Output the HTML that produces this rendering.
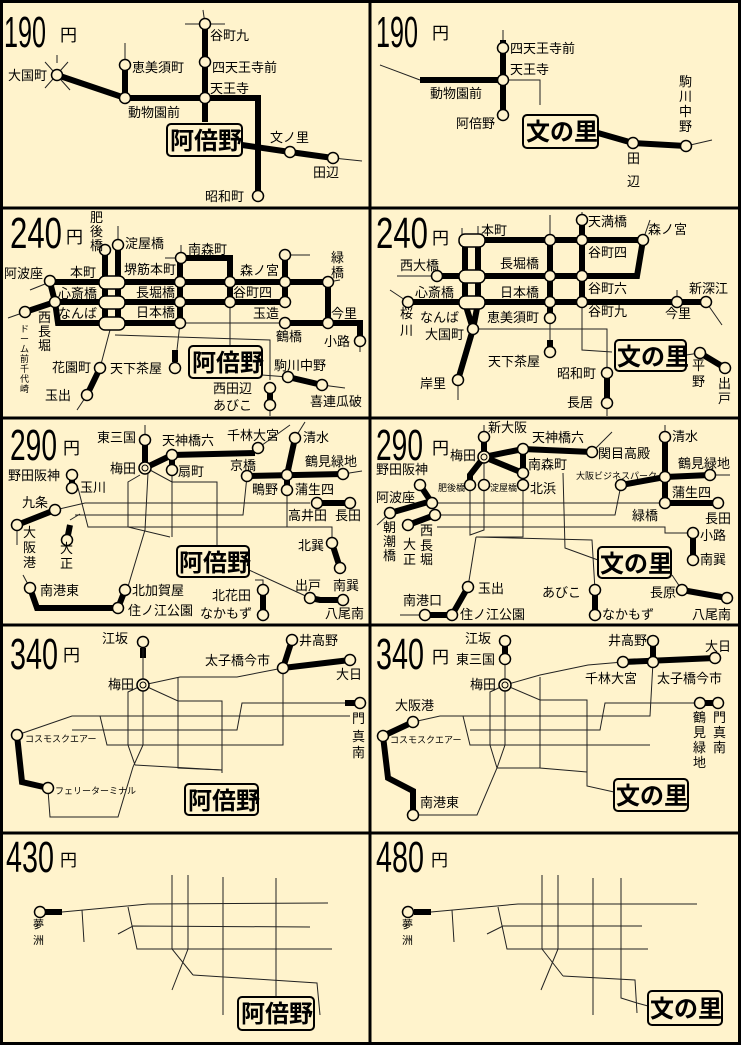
<!DOCTYPE html>
<html><head><meta charset="utf-8">
<style>
html,body{margin:0;padding:0;background:#fff3cc;}
svg{display:block}
.k{fill:none;stroke:#000;stroke-width:6;stroke-linejoin:miter}
.n{fill:none;stroke:#222;stroke-width:1}
.s{fill:#fff3cc;stroke:#000;stroke-width:1.5}
text{font-family:"Liberation Sans","Noto Sans CJK JP",sans-serif;font-size:13px;fill:#000}
.big{font-size:44px}
.yen{font-size:17px}
.box{fill:#fff3cc;stroke:#000;stroke-width:2}
.bt{font-size:24px;font-weight:bold}
.sm{font-size:9px}
</style></head><body>
<svg width="741" height="1045" viewBox="0 0 741 1045" xmlns="http://www.w3.org/2000/svg">
<rect x="0" y="0" width="741" height="1045" fill="#fff3cc"/>

<!-- ===== Panel 1: 190 left ===== -->
<text class="big" x="4" y="47" textLength="42" lengthAdjust="spacingAndGlyphs">190</text>
<text class="yen" x="60" y="41">円</text>
<polyline class="n" points="203,10 205,24"/><polyline class="n" points="185,24 225,24"/>
<polyline class="n" points="125,43 125,65"/>
<polyline class="n" points="45,62 70,90"/><polyline class="n" points="45,88 68,62"/><polyline class="n" points="57,55 57,63"/>
<polyline class="k" points="205,24 205,122"/>
<polyline class="k" points="125,65 125,98"/>
<polyline class="k" points="57,75 125,98 258,98 258,196"/>
<polyline class="k" points="242,145 290,152 333,158"/><polyline class="n" points="333,158 362,161"/>
<circle class="s" cx="205" cy="24" r="5.5"/><circle class="s" cx="205" cy="62" r="5.5"/><circle class="s" cx="205" cy="98" r="5.5"/>
<circle class="s" cx="125" cy="65" r="5.5"/><circle class="s" cx="125" cy="98" r="5.5"/><circle class="s" cx="57" cy="75" r="5.5"/>
<circle class="s" cx="258" cy="196" r="5.5"/><circle class="s" cx="290" cy="152" r="5.5"/><circle class="s" cx="333" cy="158" r="5.5"/>
<text x="210" y="40">谷町九</text><text x="212" y="72">四天王寺前</text><text x="210" y="93">天王寺</text>
<text x="132" y="72">恵美須町</text><text x="8" y="80">大国町</text><text x="128" y="117">動物園前</text>
<text x="205" y="201">昭和町</text><text x="270" y="142">文ノ里</text><text x="313" y="177">田辺</text>
<rect class="box" x="167" y="124" width="75" height="32" rx="4"/><text class="bt" x="170" y="149">阿倍野</text>

<!-- ===== Panel 2: 190 right ===== -->
<text class="big" x="376" y="47" textLength="42" lengthAdjust="spacingAndGlyphs">190</text>
<text class="yen" x="432" y="39">円</text>
<polyline class="n" points="380,65 420,80"/><polyline class="n" points="503,30 503,40"/><polyline class="n" points="503,80 540,80 540,105"/>
<polyline class="k" points="420,80 503,80"/><polyline class="k" points="503,40 503,115"/>
<polyline class="k" points="598,133 633,143 686,146"/><polyline class="n" points="686,146 712,140"/>
<circle class="s" cx="503" cy="48" r="5.5"/><circle class="s" cx="503" cy="80" r="5.5"/><circle class="s" cx="503" cy="115" r="5.5"/>
<circle class="s" cx="633" cy="143" r="5.5"/><circle class="s" cx="686" cy="146" r="5.5"/>
<text x="510" y="53">四天王寺前</text><text x="510" y="74">天王寺</text><text x="430" y="98">動物園前</text><text x="456" y="128">阿倍野</text>
<text x="627" y="163">田</text><text x="627" y="186">辺</text>
<text x="679" y="86">駒</text><text x="679" y="101">川</text><text x="679" y="116">中</text><text x="679" y="131">野</text>
<rect class="box" x="523" y="115" width="75" height="33" rx="4"/><text class="bt" x="526" y="140">文の里</text>

<!-- ===== Panel 3: 240 left ===== -->
<text class="big" x="10" y="248" textLength="52" lengthAdjust="spacingAndGlyphs">240</text>
<text class="yen" x="66" y="243">円</text>
<polyline class="n" points="118,226 118,245"/><polyline class="n" points="165,258 181,258"/><polyline class="n" points="181,245 181,258"/>
<polyline class="n" points="30,290 50,282"/><polyline class="n" points="8,318 25,312"/>
<polyline class="n" points="285,255 310,255"/><polyline class="n" points="328,282 340,280"/><polyline class="n" points="360,341 360,352"/>
<polyline class="k" points="105,250 105,323"/><polyline class="k" points="118,245 118,323"/>
<polyline class="k" points="50,282 328,282"/>
<polyline class="k" points="55,302 285,302"/>
<polyline class="k" points="50,282 55,302 58,323 180,323"/>
<polyline class="k" points="25,312 55,302"/>
<polyline class="k" points="180,258 180,323"/>
<polyline class="k" points="181,258 230,258 230,302"/>
<polyline class="k" points="285,255 285,302"/>
<polyline class="k" points="328,282 328,323"/>
<polyline class="k" points="285,323 360,323 360,341"/><polyline class="n" points="180,323 285,323"/>
<polyline class="n" points="230,302 230,346"/>
<polyline class="n" points="180,323 177,350"/><polyline class="k" points="175,350 175,362"/>
<polyline class="n" points="110,330 100,368"/><polyline class="k" points="100,368 87,395"/><polyline class="n" points="87,395 77,410"/>
<polyline class="n" points="115,335 270,340 270,380"/>
<polyline class="n" points="262,375 288,377"/><polyline class="k" points="288,377 322,385"/><polyline class="n" points="322,385 345,388"/>
<polyline class="k" points="270,388 270,405"/><polyline class="n" points="270,405 270,416"/>
<rect class="s" x="99" y="276" width="26" height="13" rx="6"/><rect class="s" x="99" y="296" width="26" height="13" rx="6"/><rect class="s" x="99" y="317" width="26" height="13" rx="6"/>
<circle class="s" cx="50" cy="281" r="5.5"/><circle class="s" cx="55" cy="302" r="5.5"/><circle class="s" cx="25" cy="312" r="5.5"/>
<circle class="s" cx="105" cy="250" r="5.5"/><circle class="s" cx="118" cy="245" r="5.5"/>
<circle class="s" cx="181" cy="258" r="5.5"/><circle class="s" cx="180" cy="282" r="5.5"/><circle class="s" cx="180" cy="302" r="5.5"/><circle class="s" cx="180" cy="323" r="5.5"/>
<circle class="s" cx="230" cy="282" r="5.5"/><circle class="s" cx="230" cy="302" r="5.5"/>
<circle class="s" cx="285" cy="255" r="5.5"/><circle class="s" cx="285" cy="282" r="5.5"/><circle class="s" cx="285" cy="302" r="5.5"/><circle class="s" cx="285" cy="323" r="5.5"/>
<circle class="s" cx="328" cy="282" r="5.5"/><circle class="s" cx="328" cy="323" r="5.5"/><circle class="s" cx="360" cy="341" r="5.5"/>
<circle class="s" cx="175" cy="368" r="5.5"/><circle class="s" cx="100" cy="368" r="5.5"/><circle class="s" cx="87" cy="395" r="5.5"/>
<circle class="s" cx="270" cy="388" r="5.5"/><circle class="s" cx="270" cy="405" r="5.5"/><circle class="s" cx="288" cy="377" r="5.5"/><circle class="s" cx="322" cy="385" r="5.5"/>
<text x="90" y="222">肥</text><text x="90" y="236">後</text><text x="90" y="250">橋</text>
<text x="125" y="248">淀屋橋</text><text x="188" y="254">南森町</text><text x="124" y="274">堺筋本町</text>
<text x="70" y="277">本町</text><text x="4" y="278">阿波座</text><text x="58" y="298">心斎橋</text><text x="58" y="318">なんば</text>
<text x="136" y="297">長堀橋</text><text x="136" y="317">日本橋</text><text x="233" y="297">谷町四</text>
<text x="240" y="275">森ノ宮</text><text x="253" y="318">玉造</text><text x="276" y="341">鶴橋</text>
<text x="331" y="262">緑</text><text x="331" y="277">橋</text><text x="331" y="318">今里</text><text x="324" y="346">小路</text>
<text x="38" y="322">西</text><text x="38" y="336">長</text><text x="38" y="350">堀</text>
<text class="sm" x="20" y="332">ド</text><text class="sm" x="20" y="342">ー</text><text class="sm" x="20" y="352">ム</text><text class="sm" x="20" y="362">前</text><text class="sm" x="20" y="372">千</text><text class="sm" x="20" y="382">代</text><text class="sm" x="20" y="392">崎</text>
<text x="52" y="372">花園町</text><text x="45" y="400">玉出</text><text x="110" y="373">天下茶屋</text>
<text x="274" y="370">駒川中野</text><text x="213" y="393">西田辺</text><text x="213" y="410">あびこ</text><text x="310" y="406">喜連瓜破</text>
<rect class="box" x="189" y="346" width="73" height="32" rx="4"/><text class="bt" x="192" y="371">阿倍野</text>

<!-- ===== Panel 4: 240 right ===== -->
<text class="big" x="376" y="248" textLength="52" lengthAdjust="spacingAndGlyphs">240</text>
<text class="yen" x="432" y="244">円</text>
<polyline class="n" points="462,240 462,228"/><polyline class="n" points="478,226 478,240"/><polyline class="n" points="550,215 550,240"/><polyline class="n" points="582,212 582,220"/>
<polyline class="n" points="643,240 650,220"/><polyline class="n" points="397,276 437,276"/><polyline class="n" points="390,290 408,302"/>
<polyline class="n" points="677,302 677,290"/><polyline class="n" points="706,302 722,325"/>
<polyline class="k" points="465,240 465,303"/><polyline class="k" points="478,240 478,303"/>
<polyline class="k" points="470,240 643,240"/><polyline class="k" points="437,276 637,276 643,240"/>
<polyline class="k" points="408,302 706,302"/>
<polyline class="k" points="465,303 473,329 478,303"/><polyline class="k" points="473,329 458,380"/><polyline class="n" points="458,380 458,400"/>
<polyline class="k" points="550,240 550,318"/><polyline class="n" points="550,318 550,340"/><polyline class="k" points="550,340 550,352"/>
<polyline class="k" points="582,220 582,302"/><polyline class="n" points="582,302 582,350 612,352"/>
<polyline class="n" points="473,329 607,329 607,373"/><polyline class="k" points="607,373 607,403"/><polyline class="n" points="607,403 607,416"/>
<polyline class="n" points="686,355 700,353"/><polyline class="k" points="700,353 725,368"/>
<rect class="s" x="459" y="234" width="26" height="13" rx="6"/><rect class="s" x="459" y="270" width="26" height="13" rx="6"/><rect class="s" x="459" y="296" width="26" height="13" rx="6"/>
<circle class="s" cx="582" cy="220" r="5.5"/><circle class="s" cx="550" cy="240" r="5.5"/><circle class="s" cx="582" cy="240" r="5.5"/>
<circle class="s" cx="550" cy="276" r="5.5"/><circle class="s" cx="582" cy="276" r="5.5"/><circle class="s" cx="550" cy="302" r="5.5"/><circle class="s" cx="582" cy="302" r="5.5"/>
<circle class="s" cx="643" cy="240" r="5.5"/><circle class="s" cx="437" cy="276" r="5.5"/><circle class="s" cx="408" cy="302" r="5.5"/>
<circle class="s" cx="677" cy="302" r="5.5"/><circle class="s" cx="706" cy="302" r="5.5"/><circle class="s" cx="473" cy="329" r="5.5"/><circle class="s" cx="458" cy="380" r="5.5"/>
<circle class="s" cx="550" cy="318" r="5.5"/><circle class="s" cx="550" cy="352" r="5.5"/><circle class="s" cx="607" cy="373" r="5.5"/><circle class="s" cx="607" cy="403" r="5.5"/>
<circle class="s" cx="700" cy="353" r="5.5"/><circle class="s" cx="725" cy="368" r="5.5"/>
<text x="481" y="235">本町</text><text x="588" y="226">天満橋</text><text x="648" y="234">森ノ宮</text><text x="588" y="257">谷町四</text>
<text x="400" y="270">西大橋</text><text x="500" y="268">長堀橋</text><text x="415" y="297">心斎橋</text><text x="500" y="297">日本橋</text>
<text x="588" y="293">谷町六</text><text x="689" y="293">新深江</text><text x="588" y="316">谷町九</text><text x="665" y="318">今里</text>
<text x="487" y="322">恵美須町</text><text x="420" y="322">なんば</text><text x="425" y="339">大国町</text>
<text x="400" y="318">桜</text><text x="400" y="335">川</text><text x="420" y="388">岸里</text>
<text x="488" y="366">天下茶屋</text><text x="557" y="378">昭和町</text><text x="567" y="407">長居</text>
<text x="692" y="370">平</text><text x="692" y="386">野</text><text x="718" y="388">出</text><text x="718" y="403">戸</text>
<rect class="box" x="615" y="340" width="71" height="31" rx="4"/><text class="bt" x="617" y="365">文の里</text>

<!-- ===== Panel 5: 290 left ===== -->
<text class="big" x="10" y="460" textLength="47" lengthAdjust="spacingAndGlyphs">290</text>
<text class="yen" x="63" y="454">円</text>
<polyline class="n" points="145,425 145,440"/><polyline class="n" points="258,448 290,425"/><polyline class="n" points="295,438 305,422"/><polyline class="n" points="343,474 362,471"/>
<polyline class="k" points="145,440 145,468 172,455 255,453"/><polyline class="k" points="172,455 172,470"/>
<polyline class="k" points="295,438 287,475 287,490"/><polyline class="k" points="247,476 343,474"/>
<polyline class="k" points="72,475 72,488"/><polyline class="k" points="55,510 17,525"/><polyline class="n" points="17,525 17,545"/>
<polyline class="k" points="70,525 67,540"/><polyline class="n" points="70,520 80,514"/>
<polyline class="k" points="317,503 350,503"/>
<polyline class="n" points="55,510 85,503 310,503"/><polyline class="n" points="75,515 243,515 247,476"/>
<polyline class="n" points="287,490 287,527"/><polyline class="n" points="78,488 88,527 332,527 332,543"/>
<polyline class="k" points="332,543 340,568"/>
<polyline class="n" points="140,475 128,482 128,527 170,537"/><polyline class="n" points="148,473 145,530 127,590"/>
<polyline class="n" points="150,470 172,482 217,482 217,546"/><polyline class="n" points="172,470 172,537"/>
<polyline class="n" points="249,570 310,598"/><polyline class="n" points="255,580 263,580 263,590"/>
<polyline class="n" points="23,575 30,588"/><polyline class="k" points="30,588 37,608 118,608 125,590"/>
<polyline class="k" points="263,590 263,615"/><polyline class="k" points="310,598 320,600 343,600"/>
<circle class="s" cx="145" cy="440" r="5.5"/><circle class="s" cx="145" cy="468" r="6"/><circle cx="145" cy="468" r="3" fill="none" stroke="#000"/>
<circle class="s" cx="172" cy="455" r="5.5"/><circle class="s" cx="172" cy="470" r="5.5"/><circle class="s" cx="258" cy="448" r="5.5"/>
<circle class="s" cx="295" cy="438" r="5.5"/><circle class="s" cx="287" cy="475" r="5.5"/><circle class="s" cx="287" cy="490" r="5.5"/><circle class="s" cx="247" cy="476" r="5.5"/><circle class="s" cx="343" cy="474" r="5.5"/>
<circle class="s" cx="72" cy="475" r="5.5"/><circle class="s" cx="72" cy="488" r="5.5"/><circle class="s" cx="55" cy="510" r="5.5"/><circle class="s" cx="17" cy="525" r="5.5"/><circle class="s" cx="67" cy="540" r="5.5"/>
<circle class="s" cx="317" cy="503" r="5.5"/><circle class="s" cx="350" cy="503" r="5.5"/><circle class="s" cx="332" cy="543" r="5.5"/><circle class="s" cx="340" cy="568" r="5.5"/>
<circle class="s" cx="30" cy="588" r="5.5"/><circle class="s" cx="118" cy="608" r="5.5"/><circle class="s" cx="125" cy="590" r="5.5"/>
<circle class="s" cx="263" cy="590" r="5.5"/><circle class="s" cx="263" cy="615" r="5.5"/><circle class="s" cx="310" cy="598" r="5.5"/><circle class="s" cx="343" cy="600" r="5.5"/>
<text x="97" y="442">東三国</text><text x="162" y="445">天神橋六</text><text x="227" y="440">千林大宮</text><text x="303" y="442">清水</text>
<text x="110" y="473">梅田</text><text x="178" y="476">扇町</text><text x="230" y="470">京橋</text><text x="305" y="466">鶴見緑地</text>
<text x="8" y="480">野田阪神</text><text x="80" y="492">玉川</text><text x="252" y="494">鴫野</text><text x="295" y="494">蒲生四</text>
<text x="22" y="507">九条</text><text x="288" y="520">高井田</text><text x="335" y="520">長田</text>
<text x="23" y="537">大</text><text x="23" y="552">阪</text><text x="23" y="567">港</text><text x="60" y="553">大</text><text x="60" y="568">正</text>
<text x="298" y="550">北巽</text><text x="333" y="590">南巽</text><text x="295" y="590">出戸</text><text x="325" y="618">八尾南</text>
<text x="40" y="595">南港東</text><text x="132" y="595">北加賀屋</text><text x="128" y="615">住ノ江公園</text>
<text x="212" y="600">北花田</text><text x="200" y="618">なかもず</text>
<rect class="box" x="177" y="546" width="72" height="31" rx="4"/><text class="bt" x="179" y="571">阿倍野</text>

<!-- ===== Panel 6: 290 right ===== -->
<text class="big" x="376" y="460" textLength="47" lengthAdjust="spacingAndGlyphs">290</text>
<text class="yen" x="432" y="454">円</text>
<polyline class="n" points="484,425 484,437"/><polyline class="n" points="592,452 612,432"/><polyline class="n" points="665,425 665,437"/><polyline class="n" points="710,475 730,475"/><polyline class="n" points="377,525 390,513"/>
<polyline class="k" points="484,437 484,457 523,449 592,452"/><polyline class="k" points="523,449 523,473"/>
<polyline class="k" points="484,457 523,473"/><polyline class="k" points="484,457 470,475 470,485"/>
<polyline class="k" points="621,485 665,477 710,475"/><polyline class="k" points="665,437 665,503 718,503"/>
<polyline class="k" points="420,485 432,503"/><polyline class="k" points="390,513 435,500"/><polyline class="k" points="408,525 435,515"/>
<polyline class="n" points="432,503 665,503"/><polyline class="n" points="436,515 615,515 621,485"/><polyline class="n" points="437,527 665,527 665,533 693,533"/>
<polyline class="k" points="693,533 693,560"/>
<polyline class="n" points="484,457 484,530 470,535 470,485"/><polyline class="n" points="476,537 523,537 523,485"/>
<polyline class="n" points="476,537 468,587"/><polyline class="n" points="476,537 592,540 595,590"/>
<polyline class="n" points="563,473 565,548 598,560"/><polyline class="n" points="672,575 682,590"/>
<polyline class="k" points="468,587 452,615 425,615"/><polyline class="n" points="425,615 400,615"/>
<polyline class="k" points="595,590 595,615"/><polyline class="k" points="682,590 727,598"/>
<circle class="s" cx="484" cy="437" r="5.5"/><circle class="s" cx="484" cy="457" r="6"/><circle cx="484" cy="457" r="3" fill="none" stroke="#000"/>
<circle class="s" cx="523" cy="449" r="5.5"/><circle class="s" cx="523" cy="473" r="5.5"/><circle class="s" cx="523" cy="485" r="5.5"/><circle class="s" cx="592" cy="452" r="5.5"/>
<circle class="s" cx="470" cy="485" r="5.5"/><circle class="s" cx="484" cy="485" r="5.5"/><circle class="s" cx="621" cy="485" r="5.5"/>
<circle class="s" cx="665" cy="437" r="5.5"/><circle class="s" cx="665" cy="477" r="5.5"/><circle class="s" cx="710" cy="475" r="5.5"/><circle class="s" cx="665" cy="503" r="5.5"/><circle class="s" cx="718" cy="503" r="5.5"/>
<circle class="s" cx="420" cy="485" r="5.5"/><circle class="s" cx="432" cy="503" r="5.5"/><circle class="s" cx="435" cy="515" r="5.5"/><circle class="s" cx="390" cy="513" r="5.5"/><circle class="s" cx="408" cy="525" r="5.5"/>
<circle class="s" cx="693" cy="533" r="5.5"/><circle class="s" cx="693" cy="560" r="5.5"/>
<circle class="s" cx="468" cy="587" r="5.5"/><circle class="s" cx="452" cy="615" r="5.5"/><circle class="s" cx="425" cy="615" r="5.5"/>
<circle class="s" cx="595" cy="590" r="5.5"/><circle class="s" cx="595" cy="615" r="5.5"/><circle class="s" cx="682" cy="590" r="5.5"/><circle class="s" cx="727" cy="598" r="5.5"/>
<text x="488" y="432">新大阪</text><text x="532" y="442">天神橋六</text><text x="598" y="458">関目高殿</text><text x="672" y="441">清水</text>
<text x="450" y="460">梅田</text><text x="528" y="469">南森町</text><text x="678" y="468">鶴見緑地</text>
<text class="sm" x="438" y="491">肥後橋</text><text class="sm" x="490" y="491">淀屋橋</text><text x="530" y="493">北浜</text><text class="sm" x="576" y="479">大阪ビジネスパーク</text>
<text x="376" y="474">野田阪神</text><text x="376" y="502">阿波座</text><text x="672" y="497">蒲生四</text><text x="632" y="520">緑橋</text>
<text x="705" y="523">長田</text><text x="700" y="540">小路</text><text x="700" y="564">南巽</text>
<text x="383" y="532">朝</text><text x="383" y="546">潮</text><text x="383" y="560">橋</text><text x="403" y="549">大</text><text x="403" y="564">正</text>
<text x="420" y="535">西</text><text x="420" y="550">長</text><text x="420" y="564">堀</text>
<text x="478" y="593">玉出</text><text x="403" y="605">南港口</text><text x="460" y="619">住ノ江公園</text>
<text x="542" y="597">あびこ</text><text x="602" y="619">なかもず</text><text x="650" y="597">長原</text><text x="692" y="619">八尾南</text>
<rect class="box" x="598" y="547" width="73" height="31" rx="4"/><text class="bt" x="600" y="572">文の里</text>

<!-- ===== Panel 7: 340 left ===== -->
<text class="big" x="10" y="669" textLength="48" lengthAdjust="spacingAndGlyphs">340</text>
<text class="yen" x="63" y="661">円</text>
<polyline class="k" points="143,648 143,658"/>
<polyline class="n" points="143,648 143,745 133,767 118,817 50,817 48,790"/>
<polyline class="n" points="143,685 128,692 128,745 135,765"/>
<polyline class="n" points="143,685 180,677 237,677 283,668"/>
<polyline class="n" points="143,685 178,701 222,701 222,773"/>
<polyline class="n" points="178,677 178,768 222,770"/>
<polyline class="n" points="17,735 72,716 350,716"/>
<polyline class="n" points="100,716 107,745 283,745 283,668"/>
<polyline class="n" points="72,730 237,730 242,703 345,703"/>
<polyline class="n" points="72,730 100,730"/>
<polyline class="n" points="135,765 222,770"/>
<polyline class="k" points="283,668 292,640"/><polyline class="k" points="283,668 350,660"/>
<polyline class="k" points="345,703 358,703"/>
<polyline class="k" points="17,735 22,782 48,788"/>
<circle class="s" cx="143" cy="642" r="5.5"/><circle class="s" cx="143" cy="685" r="6"/><circle cx="143" cy="685" r="3" fill="none" stroke="#000"/>
<circle class="s" cx="283" cy="668" r="5.5"/><circle class="s" cx="292" cy="640" r="5.5"/><circle class="s" cx="350" cy="660" r="5.5"/><circle class="s" cx="360" cy="703" r="5.5"/>
<circle class="s" cx="17" cy="735" r="5.5"/><circle class="s" cx="48" cy="788" r="5.5"/>
<text x="102" y="643">江坂</text><text x="108" y="689">梅田</text><text x="205" y="665">太子橋今市</text><text x="299" y="645">井高野</text><text x="336" y="679">大日</text>
<text x="352" y="723">門</text><text x="352" y="741">真</text><text x="352" y="757">南</text>
<text class="sm" x="25" y="742">コスモスクエアー</text><text class="sm" x="55" y="794">フェリーターミナル</text>
<rect class="box" x="185" y="784" width="73" height="31" rx="4"/><text class="bt" x="188" y="809">阿倍野</text>

<!-- ===== Panel 8: 340 right ===== -->
<text class="big" x="376" y="669" textLength="48" lengthAdjust="spacingAndGlyphs">340</text>
<text class="yen" x="432" y="663">円</text>
<polyline class="k" points="505,641 505,659"/>
<polyline class="n" points="505,659 505,745 497,768 477,815 413,815"/>
<polyline class="n" points="505,685 490,692 490,745 497,768"/>
<polyline class="n" points="505,685 540,675 588,665 623,662"/>
<polyline class="n" points="505,685 540,700 587,700 587,786 614,792"/>
<polyline class="n" points="540,677 540,768 587,772"/>
<polyline class="n" points="413,722 440,716 650,716 653,662"/>
<polyline class="n" points="463,716 470,745 650,745"/>
<polyline class="n" points="470,730 600,730 605,703 700,703"/>
<polyline class="n" points="497,768 540,768"/>
<polyline class="k" points="623,662 715,658"/><polyline class="k" points="653,641 653,662"/>
<polyline class="k" points="700,703 718,703"/>
<polyline class="k" points="413,722 383,736 388,778 413,791 413,815"/>
<circle class="s" cx="505" cy="641" r="5.5"/><circle class="s" cx="505" cy="659" r="5.5"/><circle class="s" cx="505" cy="685" r="6"/><circle cx="505" cy="685" r="3" fill="none" stroke="#000"/>
<circle class="s" cx="623" cy="662" r="5.5"/><circle class="s" cx="653" cy="662" r="5.5"/><circle class="s" cx="653" cy="641" r="5.5"/><circle class="s" cx="715" cy="658" r="5.5"/>
<circle class="s" cx="700" cy="703" r="5.5"/><circle class="s" cx="718" cy="703" r="5.5"/>
<circle class="s" cx="413" cy="722" r="5.5"/><circle class="s" cx="383" cy="736" r="5.5"/><circle class="s" cx="413" cy="815" r="5.5"/>
<text x="465" y="643">江坂</text><text x="456" y="664">東三国</text><text x="470" y="689">梅田</text>
<text x="608" y="645">井高野</text><text x="705" y="651">大日</text><text x="585" y="683">千林大宮</text><text x="657" y="683">太子橋今市</text>
<text x="395" y="710">大阪港</text><text class="sm" x="390" y="743">コスモスクエアー</text><text x="420" y="807">南港東</text>
<text x="693" y="722">鶴</text><text x="693" y="737">見</text><text x="693" y="752">緑</text><text x="693" y="767">地</text>
<text x="713" y="722">門</text><text x="713" y="737">真</text><text x="713" y="752">南</text>
<rect class="box" x="614" y="779" width="74" height="32" rx="4"/><text class="bt" x="616" y="804">文の里</text>

<!-- ===== Panel 9: 430 ===== -->
<text class="big" x="6" y="872" textLength="48" lengthAdjust="spacingAndGlyphs">430</text>
<text class="yen" x="60" y="866">円</text>
<polyline class="k" points="45,912 62,912"/>
<polyline class="n" points="62,912 148,904 328,903"/>
<polyline class="n" points="82,910 84,942"/><polyline class="n" points="128,907 137,949 332,949"/>
<polyline class="n" points="118,934 133,926 310,927"/>
<polyline class="n" points="172,875 172,949 193,975"/><polyline class="n" points="188,875 188,949 172,990"/>
<polyline class="n" points="193,975 317,983 320,1015"/>
<polyline class="n" points="223,877 223,1015"/><polyline class="n" points="276,878 276,997"/>
<circle class="s" cx="40" cy="912" r="5.5"/>
<text class="sm" x="33" y="928" style="font-size:11px">夢</text><text class="sm" x="33" y="944" style="font-size:11px">洲</text>
<rect class="box" x="238" y="997" width="76" height="33" rx="4"/><text class="bt" x="241" y="1022">阿倍野</text>

<!-- ===== Panel 10: 480 ===== -->
<text class="big" x="376" y="872" textLength="48" lengthAdjust="spacingAndGlyphs">480</text>
<text class="yen" x="431" y="866">円</text>
<polyline class="k" points="414,912 431,912"/>
<polyline class="n" points="431,912 518,904 697,904"/>
<polyline class="n" points="452,910 454,942"/><polyline class="n" points="498,907 507,949 648,949"/>
<polyline class="n" points="487,934 503,926 642,926"/>
<polyline class="n" points="542,875 542,949 563,976"/><polyline class="n" points="558,875 558,949 541,990"/>
<polyline class="n" points="563,976 635,980 637,1013"/>
<polyline class="n" points="593,878 593,1015"/><polyline class="n" points="621,878 621,998 637,1003 648,1006"/>
<circle class="s" cx="408" cy="912" r="5.5"/>
<text x="402" y="928" style="font-size:11px">夢</text><text x="402" y="944" style="font-size:11px">洲</text>
<rect class="box" x="648" y="991" width="74" height="34" rx="4"/><text class="bt" x="650" y="1017">文の里</text>

<!-- ===== Frame ===== -->
<rect x="1.5" y="1.5" width="738" height="1042" fill="none" stroke="#000" stroke-width="3"/>
<line x1="370" y1="0" x2="370" y2="1045" stroke="#000" stroke-width="3"/>
<line x1="0" y1="208" x2="741" y2="208" stroke="#000" stroke-width="3"/>
<line x1="0" y1="418" x2="741" y2="418" stroke="#000" stroke-width="3"/>
<line x1="0" y1="625" x2="741" y2="625" stroke="#000" stroke-width="3"/>
<line x1="0" y1="833" x2="741" y2="833" stroke="#000" stroke-width="3"/>
</svg>
</body></html>
